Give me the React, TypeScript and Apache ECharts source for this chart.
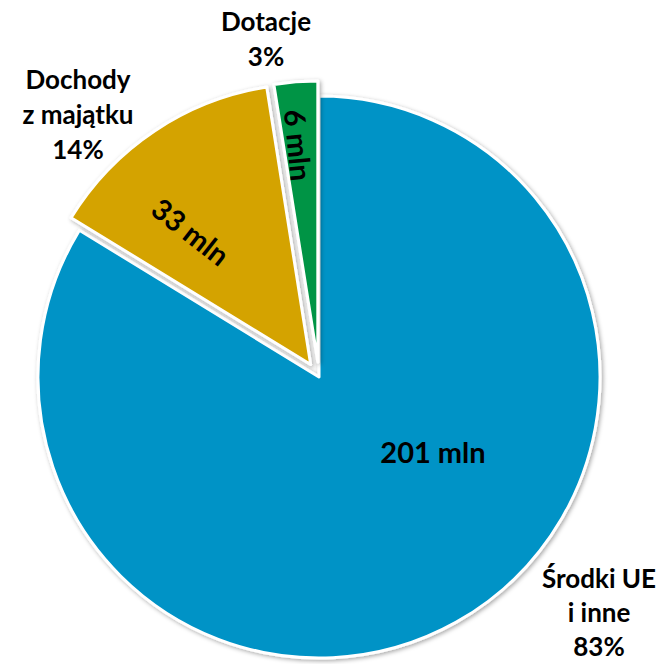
import React, { useEffect, useRef } from "react";
import * as echarts from "echarts";

const categories = ["Środki UE\ni inne", "Dochody\nz majątku", "Dotacje"];
const values = [201, 33, 6];
const valueLabels = ["201 mln", "33 mln", "6 mln"];
const percentLabels = ["83%", "14%", "3%"];
const colors = ["#0093C6", "#D4A300", "#009444"];
const explodedIdx = [1, 2];

// layout (offsets from pie centre, px)
const CX = 319;
const CY = 377;
const R = 281;
const innerPos = [
  [114, 74],
  [-126, -143.5],
  [-20, -229],
];
const innerRot = [0, -38, -84.5];
const outerPos = [
  [280, 235],
  [-241, -263],
  [-53, -339],
];
const outerLineHeight = [34, 35, 35];

const total = values.reduce((a, b) => a + b, 0);
function midAngle(i: number) {
  let before = 0;
  for (let k = 0; k < i; k++) before += values[k];
  return (360 * (before + values[i] / 2)) / total; // clockwise from top
}

// transparent helper pie that places one rotated inside label where wanted
function labelPie(i: number) {
  const [dx, dy] = innerPos[i];
  const dist = Math.sqrt(dx * dx + dy * dy);
  let ang = (Math.atan2(dx, -dy) * 180) / Math.PI; // clockwise from top
  if (ang < 0) ang += 360;
  const start = 90 + (midAngle(i) - ang);
  return {
    type: "pie",
    center: [CX, CY],
    radius: [0, dist * 2],
    startAngle: start,
    clockwise: true,
    silent: true,
    z: 3,
    itemStyle: { color: "rgba(0,0,0,0)", borderWidth: 0 },
    emphasis: { disabled: true },
    labelLine: { show: false },
    data: values.map((v, k) => ({
      name: categories[k],
      value: v,
      label: {
        show: k === i,
        position: "inside",
        rotate: innerRot[k],
        formatter: () => valueLabels[k],
        fontFamily: "Lato",
        fontWeight: "bold",
        fontSize: 29,
        color: "#000000",
      },
    })),
  };
}

export default function App() {
  const ref = useRef<HTMLDivElement>(null);
  useEffect(() => {
    if (!ref.current) return;
    const chart = echarts.init(ref.current, undefined, { renderer: "svg" });
    const mainData = values.map((v, i) => ({
      name: categories[i],
      value: v,
      selected: explodedIdx.includes(i),
      itemStyle: { color: colors[i] },
      label: { show: innerRot[i] === 0 },
    }));
    const ghostData = values.map((v, i) => ({
      name: categories[i],
      value: v,
      label: { lineHeight: outerLineHeight[i] },
    }));
    chart.setOption({
      animation: false,
      backgroundColor: "#ffffff",
      series: [
        {
          type: "pie",
          center: [CX, CY],
          radius: [0, R],
          startAngle: 90,
          clockwise: true,
          selectedMode: "multiple",
          selectedOffset: 15,
          silent: true,
          itemStyle: {
            borderColor: "#ffffff",
            borderWidth: 3,
            shadowBlur: 4,
            shadowOffsetX: 1.5,
            shadowOffsetY: 1.5,
            shadowColor: "rgba(0,0,0,0.35)",
          },
          select: {
            itemStyle: { borderColor: "#ffffff", borderWidth: 3 },
          },
          label: {
            show: true,
            position: "inside",
            formatter: (p: any) => valueLabels[p.dataIndex],
            fontFamily: "Lato",
            fontWeight: "bold",
            fontSize: 29,
            color: "#000000",
          },
          labelLine: { show: false },
          labelLayout: (p: any) => ({
            x: CX + innerPos[p.dataIndex][0],
            y: CY + innerPos[p.dataIndex][1],
            align: "center",
            verticalAlign: "middle",
          }),
          data: mainData,
        },
        labelPie(1),
        labelPie(2),
        {
          type: "pie",
          center: [CX, CY],
          radius: [0, R],
          startAngle: 90,
          clockwise: true,
          silent: true,
          z: 1,
          itemStyle: { color: "rgba(0,0,0,0)", borderWidth: 0 },
          emphasis: { disabled: true },
          label: {
            show: true,
            position: "inside",
            formatter: (p: any) =>
              categories[p.dataIndex] + "\n" + percentLabels[p.dataIndex],
            fontFamily: "Lato",
            fontWeight: "bold",
            fontSize: 26,
            lineHeight: 35,
            align: "center",
            color: "#000000",
          },
          labelLine: { show: false },
          labelLayout: (p: any) => ({
            x: CX + outerPos[p.dataIndex][0],
            y: CY + outerPos[p.dataIndex][1],
            align: "center",
            verticalAlign: "middle",
          }),
          data: ghostData,
        },
      ],
    });
    return () => chart.dispose();
  }, []);
  return (
    <div
      ref={ref}
      style={{ position: "fixed", left: 0, top: 0, width: 663, height: 664 }}
    />
  );
}
